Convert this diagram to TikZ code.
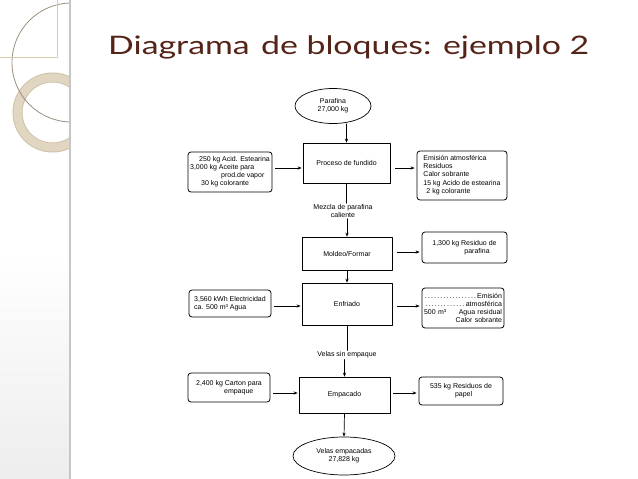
\documentclass[tikz,border=0pt]{standalone}
\usepackage{fontspec}
\setmainfont{Liberation Sans}
\newfontfamily\titlefont{Lato}
\usetikzlibrary{arrows.meta,positioning,shapes.geometric}
\definecolor{titlebrown}{HTML}{552419}
\definecolor{sand}{HTML}{E0D6C2}
\definecolor{sandedge}{HTML}{CFC2A6}
\definecolor{sandline}{HTML}{D6CCB2}
\definecolor{arcgray}{HTML}{9C8F80}
\definecolor{stripgray}{HTML}{C6C6C6}
\newcommand{\blockfont}{\fontsize{7}{8}\selectfont}
\tikzset{
    every picture/.style={line cap=round,line join=round},
    blockbox/.style={draw=black,line width=0.7pt,inner sep=1pt,
      font=\blockfont,align=center},
    sidebox/.style={draw=black,line width=0.8pt,rounded corners=3pt,
      inner xsep=2pt,inner ysep=1.5pt,font=\blockfont,align=left},
    endnode/.style={draw=black,ellipse,line width=0.7pt,inner sep=0pt,
      font=\blockfont,align=center},
    flowlabel/.style={inner sep=1pt,font=\blockfont,align=center},
    flowarrow/.style={-{Stealth[length=4pt,width=3.2pt]},draw=black,
      line width=0.7pt},
    flowline/.style={draw=black,line width=0.7pt}
}

\begin{document}
\begin{tikzpicture}[x=1pt,y=-1pt]
  \useasboundingbox (0,0) rectangle (638,479);
  \fill[white] (0,0) rectangle (638,479);
  % slide decoration
  \shade[top color=white,bottom color=black!7] (0,479) rectangle (70,250);
  \begin{scope}
    \clip (0,0) rectangle (70,479);
    \draw[sandedge,line width=10pt] (52.5,112.5) circle[radius=35];
    \draw[sand,line width=8pt] (52.5,112.5) circle[radius=35];
    \draw[arcgray,line width=0.8pt] (71.5,62.5) circle[radius=59.5];
  \end{scope}
  \draw[sandline,line width=0.6pt] (57,0) -- (57,57) -- (0,57);
  \draw[stripgray,line width=1.6pt] (70,0) -- (70,479);
  \node[anchor=base west,inner sep=0pt,text=titlebrown] (title) at (108,54)
    {\resizebox{481pt}{\height}{\titlefont\fontsize{25.5}{30}\selectfont
     Diagrama\hspace{2pt} de bloques: ejemplo 2}};

  % rows of the arrows
  \coordinate (row1) at (0,168);
  \coordinate (row2) at (0,252);
  \coordinate (row3) at (0,306);
  \coordinate (row4) at (0,393);

  % main line
  \node[endnode,minimum width=76pt,minimum height=35pt] (paraf) at (333,106)
    {Parafina\\27,000 kg};
  \node[blockbox,minimum width=87pt,minimum height=40pt] (fund) at (346.5,163)
    {Proceso de fundido};
  \node[flowlabel] (mezcla) at (343,211) {Mezcla de parafina\\caliente};
  \node[blockbox,minimum width=90pt,minimum height=33pt] (mold) at (347,253.5)
    {Moldeo/Formar};
  \node[blockbox,minimum width=90pt,minimum height=42pt] (enfr) at (347,304)
    {Enfriado};
  \node[flowlabel] (velas) at (347,355) {Velas sin empaque};
  \node[blockbox,minimum width=91pt,minimum height=36pt] (empac) at (344.5,395)
    {Empacado};
  \node[endnode,minimum width=102pt,minimum height=38pt] (fin) at (344,456)
    {Velas empacadas\\27,828 kg};

  % inputs
  \node[sidebox,minimum width=84pt,minimum height=40pt] (in1) at (230,172)
    {\hspace*{9pt}250 kg Acid. Estearina\\3,000 kg Aceite para\\
     \hspace*{31pt}prod.de vapor\\\hspace*{11pt}30 kg colorante};
  \node[sidebox,minimum width=82pt,minimum height=27pt] (in3) at (230,303.5)
    {3,560 kWh Electricidad\\ca. 500 m³ Agua};
  \node[sidebox,minimum width=82pt,minimum height=29pt] (in4) at (229,387.5)
    {2,400 kg Carton para\\\hspace*{28pt}empaque};

  % outputs
  \node[sidebox,minimum width=90pt,minimum height=49pt] (out1) at (462,175.5)
    {Emisión atmosférica\\Residuos\\Calor sobrante\\[1pt]
     15 kg Acido de estearina\\\hspace*{3pt}2 kg colorante};
  \node[sidebox,minimum width=85pt,minimum height=31pt] (out2) at (464.5,247.5)
    {1,300 kg Residuo de\\\hspace*{32pt}parafina};
  \node[sidebox,text width=78pt,minimum height=40pt,align=right] (out3) at (463,308)
    {\mbox{}\dotfill Emisión\\\mbox{}\dotfill atmosférica\\
     500 m³\hfill Agua residual\\Calor sobrante};
  \node[sidebox,minimum width=84pt,minimum height=28pt] (out4) at (461,391)
    {535 kg Residuos de\\\hspace*{25pt}papel};

  % connectors
  \draw[flowarrow] (fund.north |- paraf.south) -- (fund.north);
  \draw[flowline] (fund.south) -- (fund.south |- mezcla.north);
  \draw[flowarrow] (mold.north |- mezcla.south) -- (mold.north);
  \draw[flowarrow] (mold.south) -- (enfr.north);
  \draw[flowline] (enfr.south) -- (enfr.south |- velas.north);
  \draw[flowarrow] (empac.north |- velas.south) -- (empac.north);
  \draw[flowarrow] (empac.south) -- (fin.north);

  \draw[flowarrow,shorten <=3pt,shorten >=1pt] (in1.east |- row1) -- (fund.west |- row1);
  \draw[flowarrow,shorten <=3pt,shorten >=1pt] (in3.east |- row3) -- (enfr.west |- row3);
  \draw[flowarrow,shorten <=3pt,shorten >=1pt] (in4.east |- row4) -- (empac.west |- row4);

  \draw[flowarrow,shorten <=5pt,shorten >=2pt] (fund.east |- row1) -- (out1.west |- row1);
  \draw[flowarrow,shorten <=5pt,shorten >=2pt] (mold.east |- row2) -- (out2.west |- row2);
  \draw[flowarrow,shorten <=5pt,shorten >=2pt] (enfr.east |- row3) -- (out3.west |- row3);
  \draw[flowarrow,shorten <=3pt,shorten >=2pt] (empac.east |- row4) -- (out4.west |- row4);
\end{tikzpicture}
\end{document}
